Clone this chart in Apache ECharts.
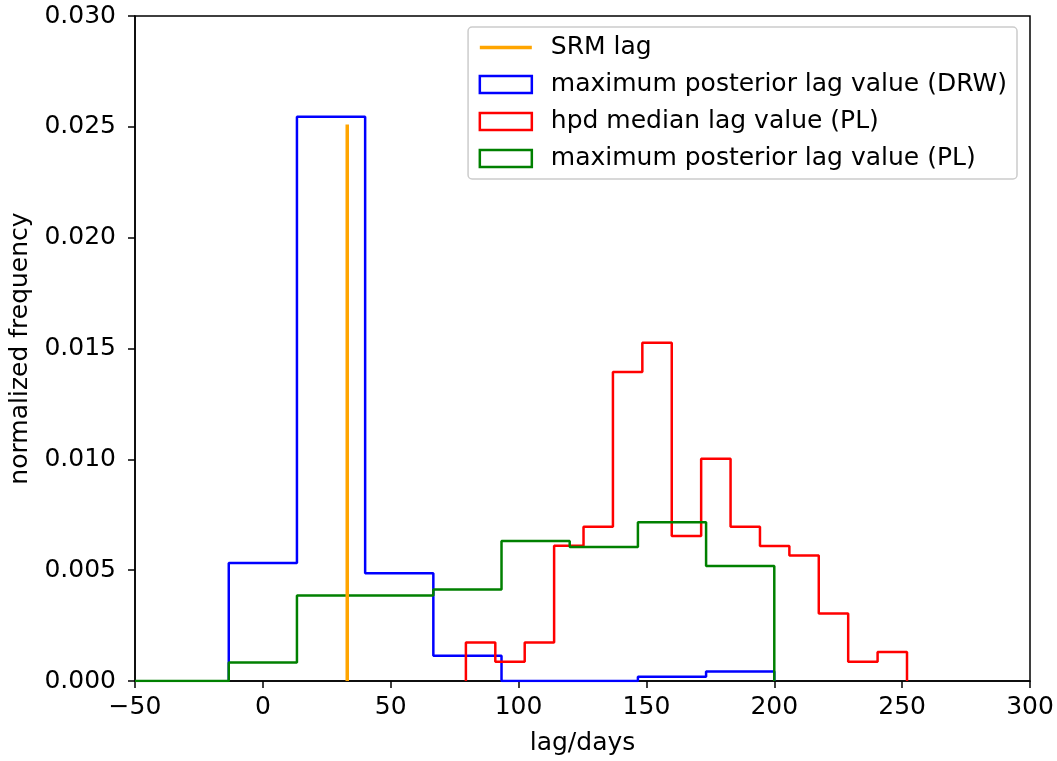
<!DOCTYPE html>
<html>
<head>
<meta charset="utf-8">
<script src="https://cdn.jsdelivr.net/npm/echarts@6/dist/echarts.min.js"></script>
<style>
  html, body { margin: 0; padding: 0; background: #fff; }
  #chart { width: 1057px; height: 761px; }
</style>
</head>
<body>
<div id="chart"></div>
<script>
// bin edges and heights
var drwEdges = [-13.33, 13.33, 40, 66.67, 93.33, 120, 146.67, 173.33, 200];
var drwValues = [0.00532, 0.02545, 0.00486, 0.00114, 0, 0, 0.00019, 0.00043];

var plEdges = [-13.33, 13.33, 40, 66.67, 93.33, 120, 146.67, 173.33, 200];
var plValues = [0.00084, 0.00386, 0.00386, 0.00413, 0.00632, 0.00604, 0.00716, 0.00519];

var hpdEdges = [79.4, 90.9, 102.4, 113.9, 125.4, 136.9, 148.4, 159.9, 171.4, 182.9, 194.4, 205.9, 217.4, 228.9, 240.4, 251.9];
var hpdValues = [0.00174, 0.00087, 0.00174, 0.00610, 0.00696, 0.01394, 0.01526, 0.00654, 0.01003, 0.00696, 0.00609, 0.00566, 0.00305, 0.00087, 0.00131];

var srmLag = 33;
var srmTop = 0.0251;

// outline of a step histogram
function stepOutline(edges, values, start) {
	var pts = [];
	if (start !== undefined) pts.push([start, 0]);
	pts.push([edges[0], 0]);
	for (var i = 0; i < values.length; i++) {
		pts.push([edges[i], values[i]]);
		pts.push([edges[i + 1], values[i]]);
	}
	pts.push([edges[edges.length - 1], 0]);
	return pts;
}

var font = 'DejaVu Sans';
var myChart = echarts.init(document.getElementById('chart'));

function histSeries(name, color, pts, z) {
	return {
		name: name,
		type: 'line',
		data: pts,
		symbol: 'none',
		z: z,
		lineStyle: { color: color, width: 2.5 },
		itemStyle: { color: color }
	};
}

function legendBox(name, color) {
	return {
		name: name,
		icon: 'rect',
		itemStyle: { color: 'transparent', borderColor: color, borderWidth: 2.5 }
	};
}

myChart.setOption({
	animation: false,
	grid: {
		left: 133,
		right: 27,
		top: 16,
		bottom: 77,
		show: true,
		borderColor: '#000',
		borderWidth: 1.5,
		backgroundColor: 'transparent'
	},
	legend: {
		orient: 'vertical',
		right: 40,
		top: 27,
		padding: [8, 10, 8, 10],
		itemWidth: 52,
		itemHeight: 17,
		itemGap: 12,
		backgroundColor: '#fff',
		borderColor: '#cccccc',
		borderWidth: 1.5,
		borderRadius: 4,
		textStyle: { fontFamily: font, fontSize: 25, color: '#000', padding: [0, 0, 0, 14] },
		data: [
			{ name: 'SRM lag', itemStyle: { opacity: 0 }, lineStyle: { color: '#ffa500', width: 3.5 } },
			legendBox('maximum posterior lag value (DRW)', '#0000ff'),
			legendBox('hpd median lag value (PL)', '#ff0000'),
			legendBox('maximum posterior lag value (PL)', '#008000')
		]
	},
	xAxis: {
		type: 'value',
		min: -50,
		max: 300,
		interval: 50,
		name: 'lag/days',
		nameLocation: 'middle',
		nameGap: 50,
		nameTextStyle: { fontFamily: font, fontSize: 25, color: '#000' },
		splitLine: { show: false },
		axisLine: { show: true, onZero: false, lineStyle: { color: '#000', width: 1.5 } },
		axisTick: { show: true, length: 7, lineStyle: { color: '#000', width: 1.5 } },
		axisLabel: {
			fontFamily: font, fontSize: 25, color: '#000', margin: 14,
			formatter: function (v) { return v < 0 ? '\u2212' + Math.abs(v) : String(v); }
		}
	},
	yAxis: {
		type: 'value',
		min: 0,
		max: 0.03,
		interval: 0.005,
		name: 'normalized frequency',
		nameLocation: 'middle',
		nameGap: 102,
		nameTextStyle: { fontFamily: font, fontSize: 25, color: '#000' },
		splitLine: { show: false },
		axisLine: { show: true, onZero: false, lineStyle: { color: '#000', width: 1.5 } },
		axisTick: { show: true, length: 7, lineStyle: { color: '#000', width: 1.5 } },
		axisLabel: {
			fontFamily: font, fontSize: 25, color: '#000', margin: 19,
			formatter: function (v) { return v.toFixed(3); }
		}
	},
	series: [
		{
			name: 'SRM lag',
			type: 'line',
			data: [[srmLag, 0], [srmLag, srmTop]],
			symbol: 'none',
			z: 5,
			lineStyle: { color: '#ffa500', width: 3.5 },
			itemStyle: { color: '#ffa500' }
		},
		histSeries('maximum posterior lag value (DRW)', '#0000ff', stepOutline(drwEdges, drwValues), 3),
		histSeries('hpd median lag value (PL)', '#ff0000', stepOutline(hpdEdges, hpdValues), 3),
		histSeries('maximum posterior lag value (PL)', '#008000', stepOutline(plEdges, plValues, -50), 4)
	]
});
</script>
</body>
</html>
